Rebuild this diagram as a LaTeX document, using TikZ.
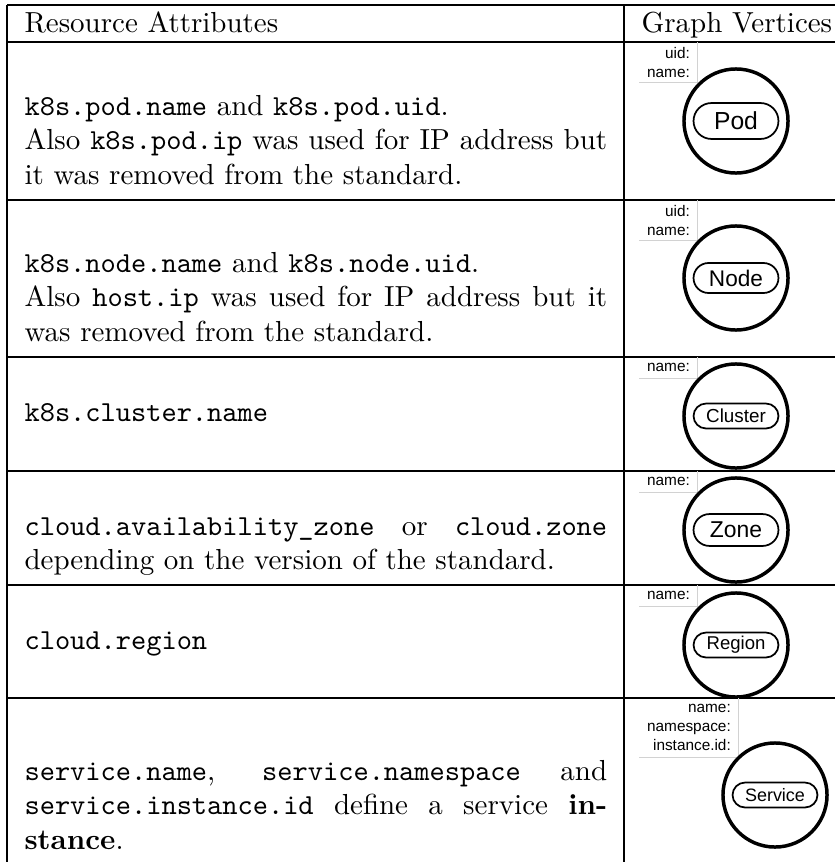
\documentclass[tikz,border=0pt]{standalone}
\usepackage{fontspec}
\newfontfamily\vfont{Liberation Sans}
\usetikzlibrary{shapes.misc}

\begin{document}
\begin{tikzpicture}[x=0.345pt,y=0.345pt]
    \tikzstyle{cell}=[anchor=base west, inner sep=0pt, text width=201pt, align=justify, execute at begin node={\tolerance=10000}]
    \tikzstyle{head}=[anchor=base west, inner sep=0pt]
    \tikzstyle{attrs}=[anchor=north west, inner xsep=2.6pt, inner ysep=0pt, align=right, font=\vfont\fontsize{5.3}{6.55}\selectfont]
    \tikzstyle{attrbox}=[draw=gray!35, line width=0.35pt]
    \tikzstyle{vertex}=[circle, draw, line width=1.2pt, minimum size=35.9pt, inner sep=0pt]
    \tikzstyle{pill}=[rounded rectangle, draw, line width=0.6pt, minimum width=29.3pt, inner sep=0pt]
    \useasboundingbox (0,0) rectangle (835,-862);

    % table rules
    \foreach \y in {5,42,200,357,471,585,698}
        \draw[line width=0.4pt] (7,-\y) -- (835,-\y);
    \draw[line width=0.4pt] (7,-5) -- (7,-862);
    \draw[line width=0.4pt] (624,-5) -- (624,-862);

    \node[head] (res-h) at (24,-32) {Resource Attributes};
    \node[head] (vtx-h) at (641,-32) {Graph Vertices};

    % left column
    \node[cell] (pod-t) at (24,-115) {\texttt{k8s.pod.name} and \texttt{k8s.pod.uid}.\\Also \texttt{k8s.pod.ip} was used for IP address but it was removed from the standard.};
    \node[cell] (node-t) at (24,-272) {\texttt{k8s.node.name} and \texttt{k8s.node.uid}.\\Also \texttt{host.ip} was used for IP address but it was removed from the standard.};
    \node[cell] (cluster-t) at (24,-421) {\texttt{k8s.cluster.name}};
    \node[cell] (zone-t) at (24,-535) {\texttt{cloud.availability\_zone} or \texttt{cloud.zone} depending on the version of the standard.};
    \node[cell] (region-t) at (24,-649) {\texttt{cloud.region}};
    \node[cell] (service-t) at (24,-780) {\texttt{service.name}, \texttt{service.namespace}~and \texttt{service.instance.id} define a service \textbf{in\-stance}.};

    % right column
    \node[attrs, minimum height=13.45pt] (pod-a) at (639,-42) {uid:\\name:};
    \draw[attrbox] (pod-a.north east) |- (pod-a.south west);
    \node[vertex] (pod-v) at (736,-121) {};
    \node[pill, minimum height=12.4pt, font=\vfont\fontsize{8.5}{10}\selectfont] (pod-p) at (pod-v) {Pod};

    \node[attrs, minimum height=13.45pt] (node-a) at (639,-200) {uid:\\name:};
    \draw[attrbox] (node-a.north east) |- (node-a.south west);
    \node[vertex] (node-v) at (736,-278) {};
    \node[pill, minimum height=10.35pt, font=\vfont\fontsize{7.8}{9}\selectfont] (node-p) at (node-v) {Node};

    \node[attrs, minimum height=6.9pt] (cluster-a) at (639,-357) {name:};
    \draw[attrbox] (cluster-a.north east) |- (cluster-a.south west);
    \node[vertex] (cluster-v) at (736,-416) {};
    \node[pill, minimum height=8.6pt, font=\vfont\fontsize{6.5}{8}\selectfont] (cluster-p) at (cluster-v) {Cluster};

    \node[attrs, minimum height=6.9pt] (zone-a) at (639,-471) {name:};
    \draw[attrbox] (zone-a.north east) |- (zone-a.south west);
    \node[vertex] (zone-v) at (736,-530) {};
    \node[pill, minimum height=11pt, font=\vfont\fontsize{7.9}{9}\selectfont] (zone-p) at (zone-v) {Zone};

    \node[attrs, minimum height=6.9pt] (region-a) at (639,-585) {name:};
    \draw[attrbox] (region-a.north east) |- (region-a.south west);
    \node[vertex] (region-v) at (736,-645) {};
    \node[pill, minimum height=8.6pt, font=\vfont\fontsize{6.4}{8}\selectfont] (region-p) at (region-v) {Region};

    \node[attrs, minimum height=20pt] (service-a) at (639,-698) {name:\\namespace:\\instance.id:};
    \draw[attrbox] (service-a.north east) |- (service-a.south west);
    \node[vertex] (service-v) at (775,-795) {};
    \node[pill, minimum height=8.6pt, font=\vfont\fontsize{6.2}{8}\selectfont] (service-p) at (service-v) {Service};
\end{tikzpicture}
\end{document}
